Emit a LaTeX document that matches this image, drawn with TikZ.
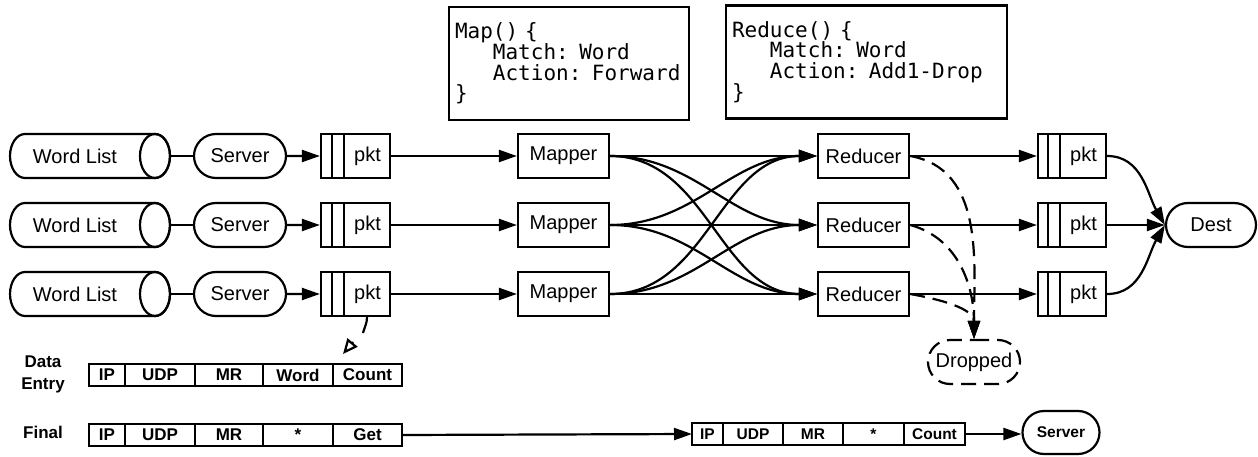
\documentclass[tikz,border=0pt]{standalone}
\usepackage{fontspec}
\setmainfont{Liberation Sans}
\setmonofont{DejaVu Sans Mono}
\usetikzlibrary{arrows.meta,shapes.misc}
\begin{document}
\begin{tikzpicture}[x=1pt,y=1pt,
  lw/.style={line width=2.2pt},
  arr/.style={-{Triangle[length=18pt,width=12pt]}},
  dashpat/.style={dash pattern=on 15pt off 8pt},
  box/.style={draw,lw,minimum height=44pt,minimum width=#1,inner sep=0pt,font=\fontsize{20}{24}\selectfont},
  stad/.style={rounded rectangle,draw,lw,minimum height=44pt,minimum width=#1,inner sep=0pt,font=\fontsize{20}{24}\selectfont},
  fld/.style={draw,line width=2pt,minimum height=22pt,minimum width=#1,inner sep=0pt,outer sep=0pt,font=\bfseries\fontsize{17}{20}\selectfont},
  fldb/.style={fld=#1,font=\bfseries\fontsize{15.5}{18}\selectfont},
  code/.style={draw,lw,align=left,inner xsep=6pt,inner ysep=0pt,minimum height=113pt,font=\ttfamily\fontsize{21}{20.7}\selectfont},
  lbl/.style={font=\bfseries\fontsize{17}{22}\selectfont,align=center,inner sep=0pt}
]
\useasboundingbox (0,0) rectangle (1258,-457);

% code boxes
\node[code,minimum width=240pt,text width=228pt] (mapc) at (569,-63.5)
  {Map() \{\\\hphantom{xxx}Match: Word\\\hphantom{xxx}Action: Forward\\\}};
\node[code,minimum width=281pt,text width=269pt] (redc) at (866.5,-62)
  {Reduce() \{\\\hphantom{xxx}Match: Word\\\hphantom{xxx}Action: Add1-Drop\\\}};

% dest and dropped
\node[stad=90pt] (dest) at (1211,-225) {Dest};
\node[stad=92pt,dashpat] (drop) at (974,-362) {Dropped};

\foreach \i/\y in {1/156,2/225,3/294}{
  % word list cylinder
  \node[minimum width=130pt,minimum height=44pt,inner sep=0pt,outer sep=0pt,font=\fontsize{20}{24}\selectfont] (wl\i) at (75,-\y) {Word List};
  \draw[lw] ([xshift=15pt]wl\i.north west) -- ([xshift=15pt]wl\i.north east)
     arc[start angle=90,end angle=-90,x radius=15pt,y radius=22pt]
     -- ([xshift=15pt]wl\i.south west)
     arc[start angle=270,end angle=90,x radius=15pt,y radius=22pt] -- cycle;
  \draw[lw] ([xshift=15pt]wl\i.east) ellipse[x radius=15pt,y radius=22pt];
  \coordinate (wle\i) at ([xshift=30pt]wl\i.east);
  \node[stad=92pt] (s\i) at (240,-\y) {Server};
  \node[box=69pt] (p\i) at (355.5,-\y) {\hspace*{24pt}pkt};
  \draw[lw] ([xshift=12pt]p\i.north west) -- ([xshift=12pt]p\i.south west);
  \draw[lw] ([xshift=24pt]p\i.north west) -- ([xshift=24pt]p\i.south west);
  \node[box=91pt] (m\i) at (563.5,-\y) {Mapper};
  \node[box=91pt] (r\i) at (863.5,-\y) {Reducer};
  \node[box=68pt] (q\i) at (1072,-\y) {\hspace*{23pt}pkt};
  \draw[lw] ([xshift=11pt]q\i.north west) -- ([xshift=11pt]q\i.south west);
  \draw[lw] ([xshift=23pt]q\i.north west) -- ([xshift=23pt]q\i.south west);
  \draw[lw] (wle\i) -- (s\i.west);
  \draw[lw,arr] (s\i) -- (p\i);
  \draw[lw,arr] (p\i) -- (m\i);
  \draw[lw,arr] (r\i) -- (q\i);
}

\foreach \i in {1,2,3}{
  \foreach \j in {1,2,3}{
    \draw[lw,arr] (m\i.east) to[out=0,in=180] (r\j.west);
  }
}

\draw[lw,arr] (q1.east) to[out=0,in=120] (dest.west);
\draw[lw,arr] (q2) -- (dest);
\draw[lw,arr] (q3.east) to[out=0,in=240] (dest.west);

\draw[lw,dashpat,arr] (r1.east) to[out=-10,in=90] (drop.north);
\draw[lw,dashpat,arr] (r2.east) to[out=-15,in=90] (drop.north);
\draw[lw,dashpat,arr] (r3.east) to[out=-10,in=90] (drop.north);

% packet formats
\node[lbl] (lde) at (43,-374) {Data\\Entry};
\node[lbl] (lfi) at (43,-432) {Final};

\node[fld=36pt,anchor=west] (d1) at (89,-375) {IP};
\node[fld=70pt,anchor=west] (d2) at (d1.east) {UDP};
\node[fld=68pt,anchor=west] (d3) at (d2.east) {MR};
\node[fld=70pt,anchor=west] (d4) at (d3.east) {Word};
\node[fld=69pt,anchor=west] (d5) at (d4.east) {Count};

\node[fld=36pt,anchor=west] (f1) at (89,-435) {IP};
\node[fld=70pt,anchor=west] (f2) at (f1.east) {UDP};
\node[fld=68pt,anchor=west] (f3) at (f2.east) {MR};
\node[fld=70pt,anchor=west] (f4) at (f3.east) {*};
\node[fld=69pt,anchor=west] (f5) at (f4.east) {Get};

\node[fldb=31pt,anchor=west] (g1) at (692,-434) {IP};
\node[fldb=60pt,anchor=west] (g2) at (g1.east) {UDP};
\node[fldb=60pt,anchor=west] (g3) at (g2.east) {MR};
\node[fldb=61pt,anchor=west] (g4) at (g3.east) {*};
\node[fldb=61pt,anchor=west] (g5) at (g4.east) {Count};

\node[rounded rectangle,draw,lw,minimum height=43pt,minimum width=77pt,inner sep=0pt,font=\bfseries\fontsize{15.5}{18}\selectfont] (srv) at (1061,-432.5) {Server};

\draw[lw,arr] (f5.east) -- (g1.west);
\draw[lw,arr] (g5.east) -- (g5.east -| srv.west);

% pkt to data entry
\coordinate (gapA) at (363,-333);
\coordinate (abase) at (353,-342);
\coordinate (atip) at (343,-354);
\draw[lw] ([xshift=11.5pt]p3.south) to[out=-90,in=75] (gapA);
\draw[lw,-{Triangle[open,length=15pt,width=13pt]}] (abase) -- (atip);
\end{tikzpicture}
\end{document}
